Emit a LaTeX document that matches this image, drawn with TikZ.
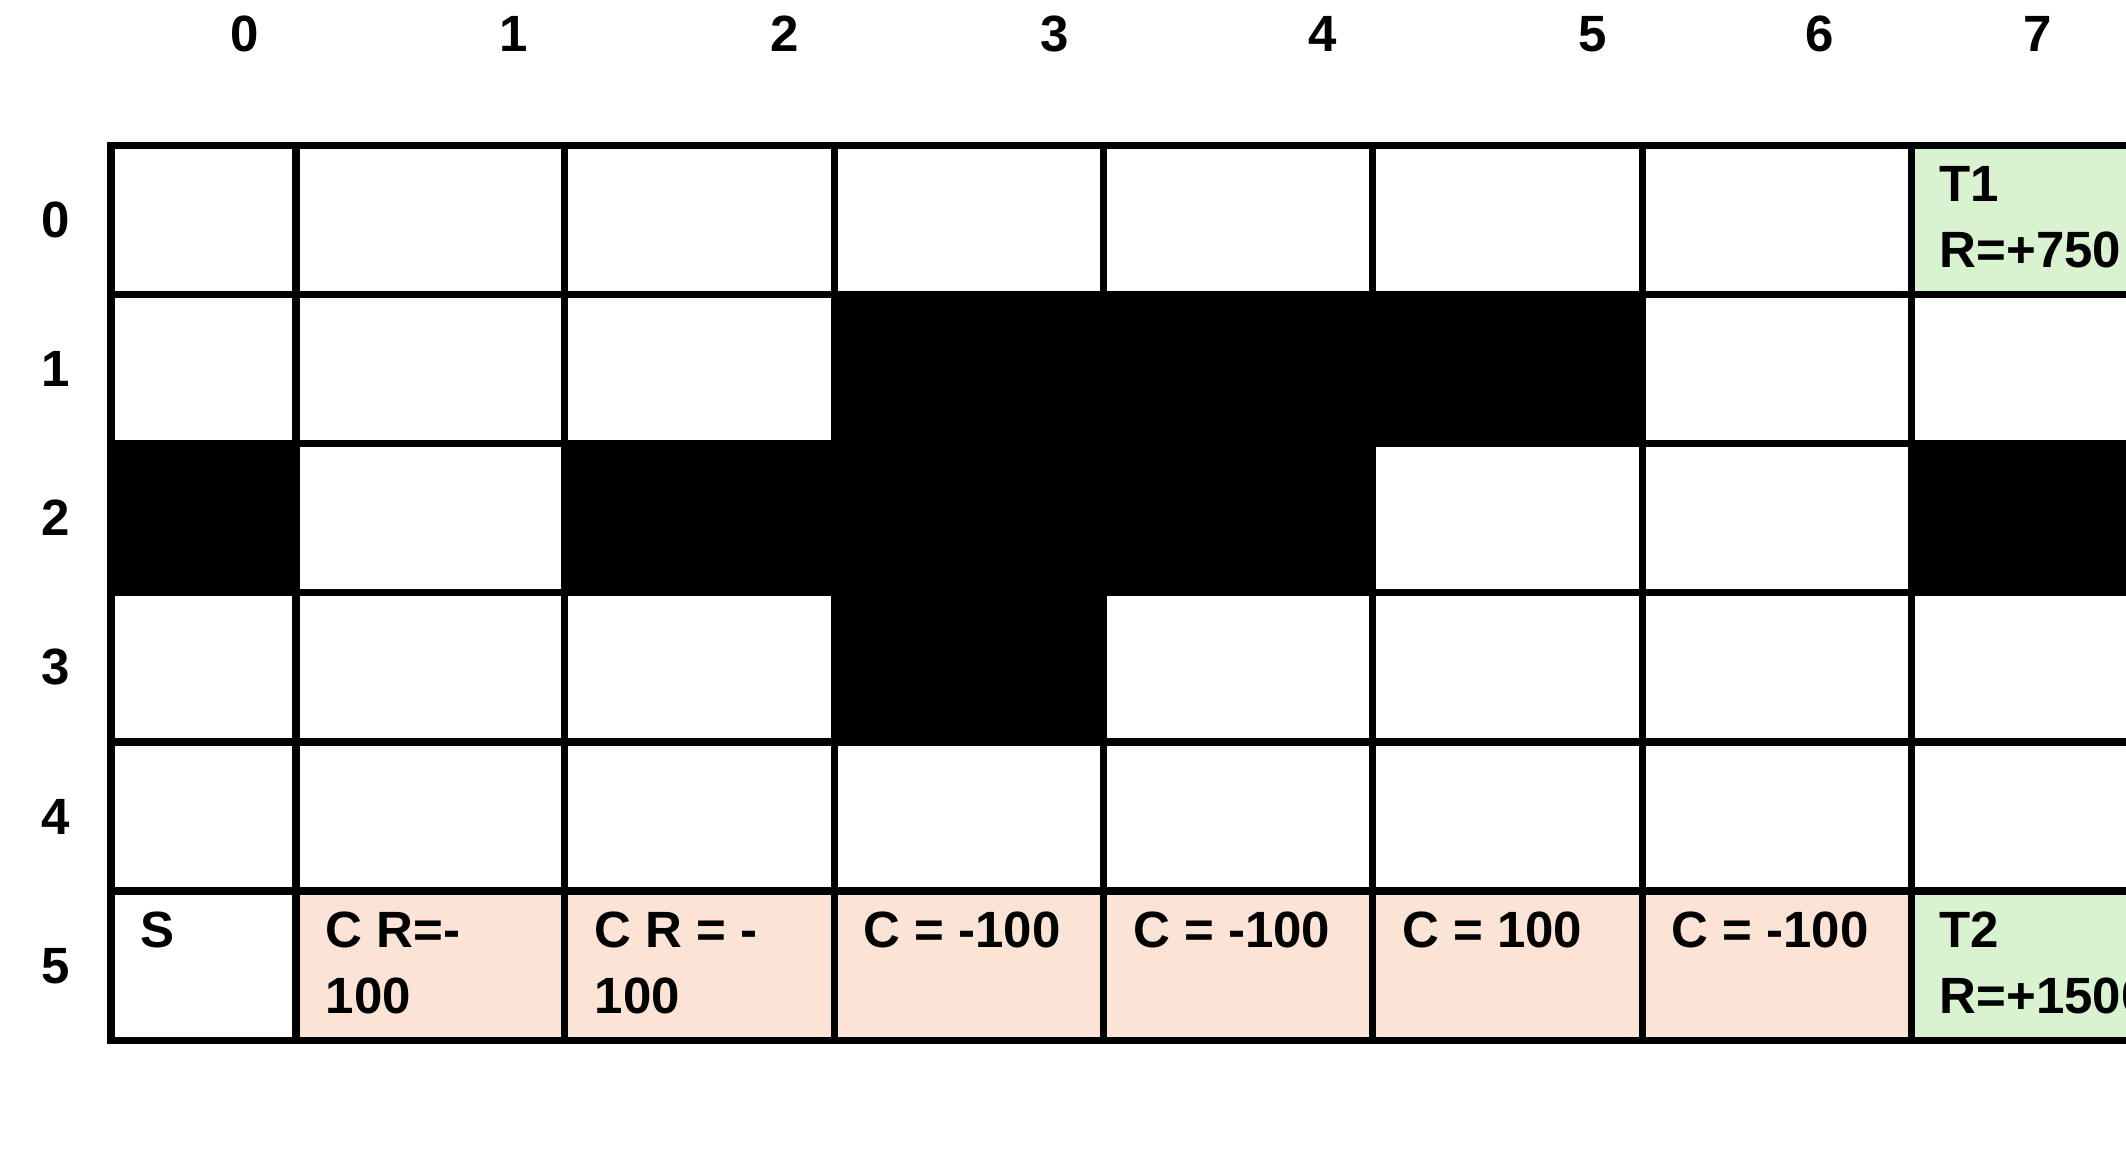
\documentclass[tikz,border=0pt]{standalone}
\usepackage{fontspec}
\setmainfont{Liberation Sans}
\definecolor{peach}{HTML}{FBE3D6}
\definecolor{mint}{HTML}{D9F2D0}
\begin{document}
\begin{tikzpicture}[x=0.01cm,y=-0.01cm,
  gridline/.style={line width=0.07cm, line cap=rect},
  blk/.style={fill=black},
  txt/.style={inner sep=0pt, anchor=base west, font=\fontsize{14.5}{17}\selectfont\bfseries},
  hdr/.style={inner sep=0pt, anchor=base, font=\fontsize{14.5}{17}\selectfont\bfseries}]
\path[use as bounding box] (0,0) rectangle (2126,1158);
\clip (0,0) rectangle (2126,1158);
\fill[white] (0,0) rectangle (2126,1158);
% coloured cells
\fill[peach] (296,891) rectangle (1911.5,1040.5);
\fill[mint] (1911.5,145.5) rectangle (2181,294.3);
\fill[mint] (1911.5,891) rectangle (2181,1040.5);
% grid
\draw[gridline] (111,145.5) rectangle (2181,1040.5);
\foreach \y in {294.3,443.3,592.3,742,891} \draw[gridline] (111,\y) -- (2181,\y);
\foreach \x in {296,564.5,834,1103.5,1372.5,1642,1911.5} \draw[gridline] (\x,145.5) -- (\x,1040.5);
% walls
\fill[blk] (830.5,290.8) rectangle (1645.5,446.8);
\fill[blk] (107.5,439.8) rectangle (299.5,595.8);
\fill[blk] (561,439.8) rectangle (1376,595.8);
\fill[blk] (1908,439.8) rectangle (2184.5,595.8);
\fill[blk] (830.5,588.8) rectangle (1107,745.5);
% column headers
\node[hdr] (h0) at (245,52) {0};
\node[hdr] (h1) at (514,52) {1};
\node[hdr] (h2) at (785,52) {2};
\node[hdr] (h3) at (1055,52) {3};
\node[hdr] (h4) at (1323,52) {4};
\node[hdr] (h5) at (1593,52) {5};
\node[hdr] (h6) at (1820,52) {6};
\node[hdr] (h7) at (2038,52) {7};
% row headers
\node[hdr] (r0) at (56,237.5) {0};
\node[hdr] (r1) at (56,386.5) {1};
\node[hdr] (r2) at (56,535.5) {2};
\node[hdr] (r3) at (56,684.8) {3};
\node[hdr] (r4) at (56,834) {4};
\node[hdr] (r5) at (56,983.3) {5};
% cell texts
\node[txt] (t1a) at (1939,201.5) {T1};
\node[txt] (t1b) at (1939,268) {R=+750};
\node[txt] (s) at (140,947) {S};
\node[txt] (c1a) at (325,947) {C R=-};
\node[txt] (c1b) at (325,1013.5) {100};
\node[txt] (c2a) at (594,947) {C R = -};
\node[txt] (c2b) at (594,1013.5) {100};
\node[txt] (c3) at (863,947) {C = -100};
\node[txt] (c4) at (1132.5,947) {C = -100};
\node[txt] (c5) at (1401.5,947) {C = 100};
\node[txt] (c6) at (1671,947) {C = -100};
\node[txt] (t2a) at (1939,947) {T2};
\node[txt] (t2b) at (1939,1013.5) {R=+1500};
\end{tikzpicture}
\end{document}
